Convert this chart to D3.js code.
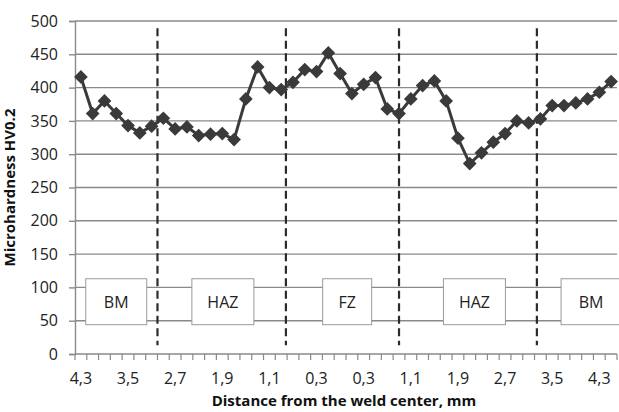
<!DOCTYPE html>
<html>
<head>
<meta charset="utf-8">
<script src="https://cdn.jsdelivr.net/npm/d3@7"></script>
<style>
  body { margin: 0; background: #fff; }
  svg { display: block; font-family: "Open Sans", sans-serif; }
</style>
</head>
<body>
<div id="chart"></div>
<script>
// chart size, same as the window
const svgWidth = 619;
const svgHeight = 412;
const margin = { top: 21, right: 2, bottom: 58, left: 75 };
const width = svgWidth - margin.left - margin.right;
const height = svgHeight - margin.top - margin.bottom;

// hardness readings, one per measuring spot (46 spots, 0.2 mm apart)
const hardness = [416, 361, 380, 361, 343, 332, 342, 354, 338, 341, 328, 330, 331, 322,
    383, 431, 400, 397, 408, 427, 424, 452, 421, 391, 405, 415, 368, 361, 383, 403,
    410, 380, 324, 286, 302, 318, 331, 350, 347, 353, 373, 373, 377, 383, 393, 409];

// labels shown under every 4th spot
const tickLabels = ["4,3", "3,5", "2,7", "1,9", "1,1", "0,3", "0,3", "1,1", "1,9", "2,7", "3,5", "4,3"];
const yTicks = [0, 50, 100, 150, 200, 250, 300, 350, 400, 450, 500];

// zone borders (in spot units) and the zone names
const zoneBorders = [7.0, 17.9, 27.5, 39.2];
const zoneNames = ["BM", "HAZ", "FZ", "HAZ", "BM"];
const zoneCenters = [3.5, 12.55, 23.1, 33.9, 43.8];

const spots = d3.range(hardness.length);

const svg = d3.select("#chart")
    .append("svg")
    .attr("width", svgWidth)
    .attr("height", svgHeight)
    .append("g")
    .attr("transform", `translate(${margin.left},${margin.top})`);

// band scale so points sit between the tick marks like excel does
const x = d3.scaleBand()
    .domain(spots)
    .range([0, width]);

// linear version of the same thing, for the borders and boxes
const xPos = d3.scaleLinear()
    .domain([0, hardness.length])
    .range([0, width]);

const y = d3.scaleLinear()
    .domain([0, 500])
    .range([height, 0]);

// gridlines
svg.append("g")
    .selectAll("line")
    .data(yTicks.filter(d => d > 0))
    .enter()
    .append("line")
    .attr("x1", 0)
    .attr("x2", width)
    .attr("y1", d => y(d))
    .attr("y2", d => y(d))
    .attr("stroke", "#8a8a8a")
    .attr("stroke-width", 1.4);

// y axis
const yAxis = svg.append("g")
    .call(d3.axisLeft(y).tickValues(yTicks).tickSize(6).tickPadding(11));
yAxis.select(".domain").attr("stroke", "#8a8a8a").attr("stroke-width", 1.4);
yAxis.selectAll(".tick line").attr("stroke", "#8a8a8a").attr("stroke-width", 1.4);
yAxis.selectAll("text").attr("font-size", "16px").attr("fill", "#222").attr("font-family", "Open Sans");

// x axis, ticks on band edges
const xAxis = svg.append("g")
    .attr("transform", `translate(0,${height})`);
xAxis.append("line")
    .attr("x1", 0)
    .attr("x2", width)
    .attr("stroke", "#8a8a8a")
    .attr("stroke-width", 1.4);
xAxis.selectAll(".xtick")
    .data(d3.range(hardness.length + 1))
    .enter()
    .append("line")
    .attr("class", "xtick")
    .attr("x1", d => xPos(d))
    .attr("x2", d => xPos(d))
    .attr("y1", 0)
    .attr("y2", 6)
    .attr("stroke", "#8a8a8a")
    .attr("stroke-width", 1.2);
xAxis.selectAll(".xlabel")
    .data(tickLabels)
    .enter()
    .append("text")
    .attr("class", "xlabel")
    .attr("x", (d, i) => x(i * 4) + x.bandwidth() / 2)
    .attr("y", 30)
    .attr("text-anchor", "middle")
    .attr("font-size", "16px")
    .attr("fill", "#222")
    .text(d => d);

// dashed zone borders
svg.selectAll(".border")
    .data(zoneBorders)
    .enter()
    .append("line")
    .attr("class", "border")
    .attr("x1", d => xPos(d))
    .attr("x2", d => xPos(d))
    .attr("y1", y(489))
    .attr("y2", y(13))
    .attr("stroke", "#2b2b2b")
    .attr("stroke-width", 2.2)
    .attr("stroke-dasharray", "8,4.5");

// zone boxes
const boxW = [61, 62, 49, 62, 60];
const boxes = svg.selectAll(".zone")
    .data(zoneNames)
    .enter()
    .append("g")
    .attr("class", "zone");
boxes.append("rect")
    .attr("x", (d, i) => xPos(zoneCenters[i]) - boxW[i] / 2)
    .attr("y", y(113))
    .attr("width", (d, i) => boxW[i])
    .attr("height", y(44) - y(113))
    .attr("fill", "#fff")
    .attr("stroke", "#9a9a9a")
    .attr("stroke-width", 1);
boxes.append("text")
    .attr("x", (d, i) => xPos(zoneCenters[i]))
    .attr("y", y(78) + 6)
    .attr("text-anchor", "middle")
    .attr("font-size", "16px")
    .attr("fill", "#222")
    .text(d => d);

// the hardness line
const line = d3.line()
    .x((d, i) => x(i) + x.bandwidth() / 2)
    .y(d => y(d));

svg.append("path")
    .datum(hardness)
    .attr("d", line)
    .attr("fill", "none")
    .attr("stroke", "#3a3a3a")
    .attr("stroke-width", 3);

// diamond markers
svg.selectAll(".pt")
    .data(hardness)
    .enter()
    .append("path")
    .attr("class", "pt")
    .attr("d", d3.symbol().type(d3.symbolDiamond2).size(120))
    .attr("transform", (d, i) => `translate(${x(i) + x.bandwidth() / 2},${y(d)})`)
    .attr("fill", "#3a3a3a");

// axis titles
svg.append("text")
    .attr("transform", `translate(${-60},${height / 2}) rotate(-90)`)
    .attr("text-anchor", "middle")
    .attr("font-size", "15px")
    .attr("font-weight", "bold")
    .attr("fill", "#111")
    .text("Microhardness HV0.2");

svg.append("text")
    .attr("x", width / 2 - 2)
    .attr("y", height + 52)
    .attr("text-anchor", "middle")
    .attr("font-size", "15px")
    .attr("font-weight", "bold")
    .attr("fill", "#111")
    .text("Distance from the weld center, mm");
</script>
</body>
</html>
